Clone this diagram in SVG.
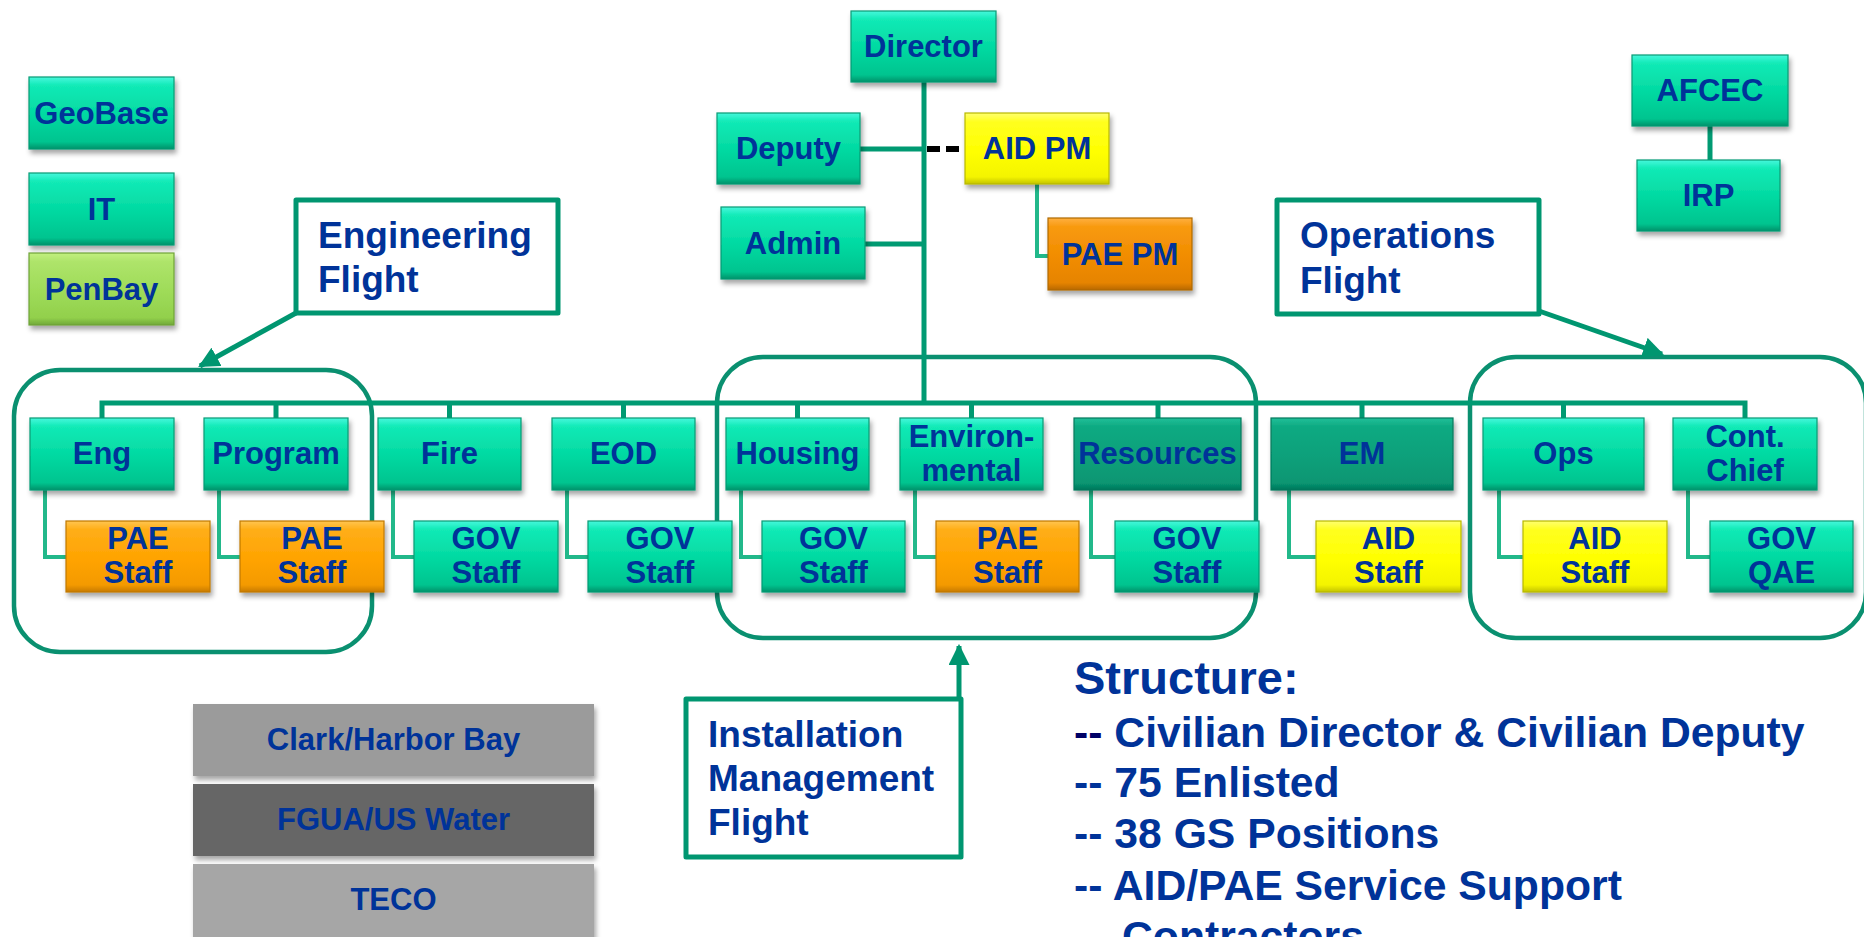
<svg xmlns="http://www.w3.org/2000/svg" width="1864" height="937" viewBox="0 0 1864 937">
<defs>
<linearGradient id="gGreen" x1="0" y1="0" x2="0" y2="1">
<stop offset="0" stop-color="#45f7dc"/><stop offset="0.12" stop-color="#12eab6"/><stop offset="0.55" stop-color="#02d8a0"/><stop offset="0.9" stop-color="#00c48f"/><stop offset="1" stop-color="#00926a"/>
</linearGradient>
<linearGradient id="gDark" x1="0" y1="0" x2="0" y2="1">
<stop offset="0" stop-color="#22c099"/><stop offset="0.12" stop-color="#0daa82"/><stop offset="0.55" stop-color="#09a07a"/><stop offset="0.9" stop-color="#079672"/><stop offset="1" stop-color="#05765a"/>
</linearGradient>
<linearGradient id="gOrange" x1="0" y1="0" x2="0" y2="1">
<stop offset="0" stop-color="#ffc550"/><stop offset="0.12" stop-color="#ffae18"/><stop offset="0.55" stop-color="#ffa300"/><stop offset="0.9" stop-color="#f49a00"/><stop offset="1" stop-color="#c87a00"/>
</linearGradient>
<linearGradient id="gOrange2" x1="0" y1="0" x2="0" y2="1">
<stop offset="0" stop-color="#ffb040"/><stop offset="0.12" stop-color="#f89a10"/><stop offset="0.55" stop-color="#f18c00"/><stop offset="0.9" stop-color="#e68400"/><stop offset="1" stop-color="#b86800"/>
</linearGradient>
<linearGradient id="gYellow" x1="0" y1="0" x2="0" y2="1">
<stop offset="0" stop-color="#ffff70"/><stop offset="0.12" stop-color="#ffff20"/><stop offset="0.55" stop-color="#ffff00"/><stop offset="0.9" stop-color="#f4f400"/><stop offset="1" stop-color="#c4c400"/>
</linearGradient>
<linearGradient id="gLime" x1="0" y1="0" x2="0" y2="1">
<stop offset="0" stop-color="#c2f080"/><stop offset="0.12" stop-color="#aee46a"/><stop offset="0.55" stop-color="#9edb58"/><stop offset="0.9" stop-color="#92d04c"/><stop offset="1" stop-color="#70a838"/>
</linearGradient>
<filter id="sh" x="-10%" y="-10%" width="125%" height="135%">
<feDropShadow dx="2" dy="4" stdDeviation="2.5" flood-color="#000" flood-opacity="0.35"/>
</filter>
<marker id="arr" viewBox="0 0 10 10" refX="9" refY="5" markerWidth="4.2" markerHeight="4.2" orient="auto" markerUnits="strokeWidth">
<path d="M0,0 L10,5 L0,10 z" fill="#009670"/>
</marker>
<style>
.box{stroke-width:1.2;filter:url(#sh)}
.g{fill:url(#gGreen);stroke:#0a9a74}
.d{fill:url(#gDark);stroke:#06785c}
.o{fill:url(#gOrange);stroke:#c07800}
.o2{fill:url(#gOrange2);stroke:#b06a00}
.y{fill:url(#gYellow);stroke:#b8b800}
.l{fill:url(#gLime);stroke:#6ea238}
.gray{filter:url(#sh)}
text{font-family:"Liberation Sans",Arial,Helvetica,sans-serif;font-weight:bold;fill:#003399}
.t{font-size:31px;text-anchor:middle}
.c{font-size:37px}
.gt{font-size:31px;text-anchor:middle}
.s{font-size:42.7px}
.main{fill:none;stroke:#009a72;stroke-width:5}
.sub{fill:none;stroke:#22b88a;stroke-width:4}
.call{fill:#fff;stroke:#009670;stroke-width:5;stroke-linejoin:round}
.grp{fill:none;stroke:#0a9070;stroke-width:4.5}
.pt{fill:none;stroke:#009670;stroke-width:5}
</style>
</defs>
<rect width="1864" height="937" fill="#fff"/>

<g id="groups">
<rect class="grp" x="14" y="370" width="358" height="282" rx="46" ry="46"/>
<rect class="grp" x="717" y="357" width="539" height="281" rx="46" ry="46"/>
<rect class="grp" x="1470" y="357" width="396" height="281" rx="46" ry="46"/>
</g>

<g id="connectors">
<path class="main" d="M924 82 V403"/>
<path class="main" d="M860 149 H924"/>
<path d="M927 149 H962" stroke="#000" stroke-width="6" stroke-dasharray="13 6" fill="none"/>
<path class="main" d="M865 244 H924"/>
<path class="sub" d="M1037 184 V256 H1048"/>
<path class="main" d="M1710 126 V160"/>
<path class="main" d="M102 418 V403 H1745 V418 M276 403 V418 M449.5 403 V418 M623.5 403 V418 M797.5 403 V418 M971.5 403 V418 M1158 403 V418 M1362 403 V418 M1563.5 403 V418"/>
<path class="sub" d="M45 490 V557 H66 M219 490 V557 H240 M393 490 V557 H414 M567 490 V557 H588 M741 490 V557 H762 M915 490 V557 H936 M1091 490 V557 H1115 M1289 490 V557 H1316 M1499 490 V557 H1523 M1688 490 V557 H1710"/>
<path class="pt" d="M296 313 L200 366" marker-end="url(#arr)"/>
<path class="pt" d="M1539 311 L1662 354" marker-end="url(#arr)"/>
<path class="pt" d="M959 699 V646" marker-end="url(#arr)"/>
</g>

<g id="director"><rect class="box g" x="851" y="11" width="145" height="71"/><text class="t" x="923.5" y="57">Director</text></g>
<g id="deputy"><rect class="box g" x="717" y="113" width="143" height="71"/><text class="t" x="788.5" y="159">Deputy</text></g>
<g id="aidpm"><rect class="box y" x="965" y="113" width="144" height="71"/><text class="t" x="1037" y="159">AID PM</text></g>
<g id="admin"><rect class="box g" x="721" y="207" width="144" height="72"/><text class="t" x="793" y="254">Admin</text></g>
<g id="paepm"><rect class="box o2" x="1048" y="218" width="144" height="72"/><text class="t" x="1120" y="265">PAE PM</text></g>
<g id="geobase"><rect class="box g" x="29" y="77" width="145" height="72"/><text class="t" x="101.5" y="124">GeoBase</text></g>
<g id="it"><rect class="box g" x="29" y="173" width="145" height="72"/><text class="t" x="101.5" y="220">IT</text></g>
<g id="penbay"><rect class="box l" x="29" y="253" width="145" height="72"/><text class="t" x="101.5" y="300">PenBay</text></g>
<g id="afcec"><rect class="box g" x="1632" y="55" width="156" height="71"/><text class="t" x="1710" y="101">AFCEC</text></g>
<g id="irp"><rect class="box g" x="1637" y="160" width="143" height="71"/><text class="t" x="1708.5" y="206">IRP</text></g>

<g id="eng"><rect class="box g" x="30" y="418" width="144" height="72"/><text class="t" x="102" y="464">Eng</text></g>
<g id="program"><rect class="box g" x="204" y="418" width="144" height="72"/><text class="t" x="276" y="464">Program</text></g>
<g id="fire"><rect class="box g" x="378" y="418" width="143" height="72"/><text class="t" x="449.5" y="464">Fire</text></g>
<g id="eod"><rect class="box g" x="552" y="418" width="143" height="72"/><text class="t" x="623.5" y="464">EOD</text></g>
<g id="housing"><rect class="box g" x="726" y="418" width="143" height="72"/><text class="t" x="797.5" y="464">Housing</text></g>
<g id="environmental"><rect class="box g" x="900" y="418" width="143" height="72"/><text class="t" x="971.5" y="447">Environ-</text><text class="t" x="971.5" y="481">mental</text></g>
<g id="resources"><rect class="box d" x="1074" y="418" width="167" height="72"/><text class="t" x="1157.5" y="464">Resources</text></g>
<g id="em"><rect class="box d" x="1271" y="418" width="182" height="72"/><text class="t" x="1362" y="464">EM</text></g>
<g id="ops"><rect class="box g" x="1483" y="418" width="161" height="72"/><text class="t" x="1563.5" y="464">Ops</text></g>
<g id="contchief"><rect class="box g" x="1673" y="418" width="144" height="72"/><text class="t" x="1745" y="447">Cont.</text><text class="t" x="1745" y="481">Chief</text></g>

<g id="paestaff1"><rect class="box o" x="66" y="521" width="144" height="71"/><text class="t" x="138" y="549">PAE</text><text class="t" x="138" y="583">Staff</text></g>
<g id="paestaff2"><rect class="box o" x="240" y="521" width="144" height="71"/><text class="t" x="312" y="549">PAE</text><text class="t" x="312" y="583">Staff</text></g>
<g id="govstaff1"><rect class="box g" x="414" y="521" width="144" height="71"/><text class="t" x="486" y="549">GOV</text><text class="t" x="486" y="583">Staff</text></g>
<g id="govstaff2"><rect class="box g" x="588" y="521" width="144" height="71"/><text class="t" x="660" y="549">GOV</text><text class="t" x="660" y="583">Staff</text></g>
<g id="govstaff3"><rect class="box g" x="762" y="521" width="143" height="71"/><text class="t" x="833.5" y="549">GOV</text><text class="t" x="833.5" y="583">Staff</text></g>
<g id="paestaff3"><rect class="box o" x="936" y="521" width="143" height="71"/><text class="t" x="1007.5" y="549">PAE</text><text class="t" x="1007.5" y="583">Staff</text></g>
<g id="govstaff4"><rect class="box g" x="1115" y="521" width="144" height="71"/><text class="t" x="1187" y="549">GOV</text><text class="t" x="1187" y="583">Staff</text></g>
<g id="aidstaff1"><rect class="box y" x="1316" y="521" width="145" height="71"/><text class="t" x="1388.5" y="549">AID</text><text class="t" x="1388.5" y="583">Staff</text></g>
<g id="aidstaff2"><rect class="box y" x="1523" y="521" width="144" height="71"/><text class="t" x="1595" y="549">AID</text><text class="t" x="1595" y="583">Staff</text></g>
<g id="govqae"><rect class="box g" x="1710" y="521" width="143" height="71"/><text class="t" x="1781.5" y="549">GOV</text><text class="t" x="1781.5" y="583">QAE</text></g>

<g id="engflight"><rect class="call" x="296" y="200" width="262" height="113"/><text class="c" x="318" y="248">Engineering</text><text class="c" x="318" y="292">Flight</text></g>
<g id="opsflight"><rect class="call" x="1277" y="200" width="262" height="114"/><text class="c" x="1300" y="248">Operations</text><text class="c" x="1300" y="293">Flight</text></g>
<g id="imflight"><rect class="call" x="686" y="699" width="275" height="158"/><text class="c" x="708" y="747">Installation</text><text class="c" x="708" y="791">Management</text><text class="c" x="708" y="835">Flight</text></g>

<g id="clark"><rect class="gray" x="193" y="704" width="401" height="72" fill="#9b9b9b"/><text class="gt" x="393.5" y="750">Clark/Harbor Bay</text></g>
<g id="fgua"><rect class="gray" x="193" y="784" width="401" height="72" fill="#666"/><text class="gt" x="393.5" y="830">FGUA/US Water</text></g>
<g id="teco"><rect class="gray" x="193" y="864" width="401" height="80" fill="#a6a6a6"/><text class="gt" x="393.5" y="910">TECO</text></g>

<g id="structure">
<text x="1074" y="694" style="font-size:47px">Structure:</text>
<text class="s" x="1074" y="747"><tspan fill="#000066">--</tspan> Civilian Director &amp; Civilian Deputy</text>
<text class="s" x="1074" y="797">-- 75 Enlisted</text>
<text class="s" x="1074" y="848">-- 38 GS Positions</text>
<text class="s" x="1074" y="900">-- AID/PAE Service Support</text>
<text class="s" x="1122" y="951">Contractors</text>
</g>
</svg>
